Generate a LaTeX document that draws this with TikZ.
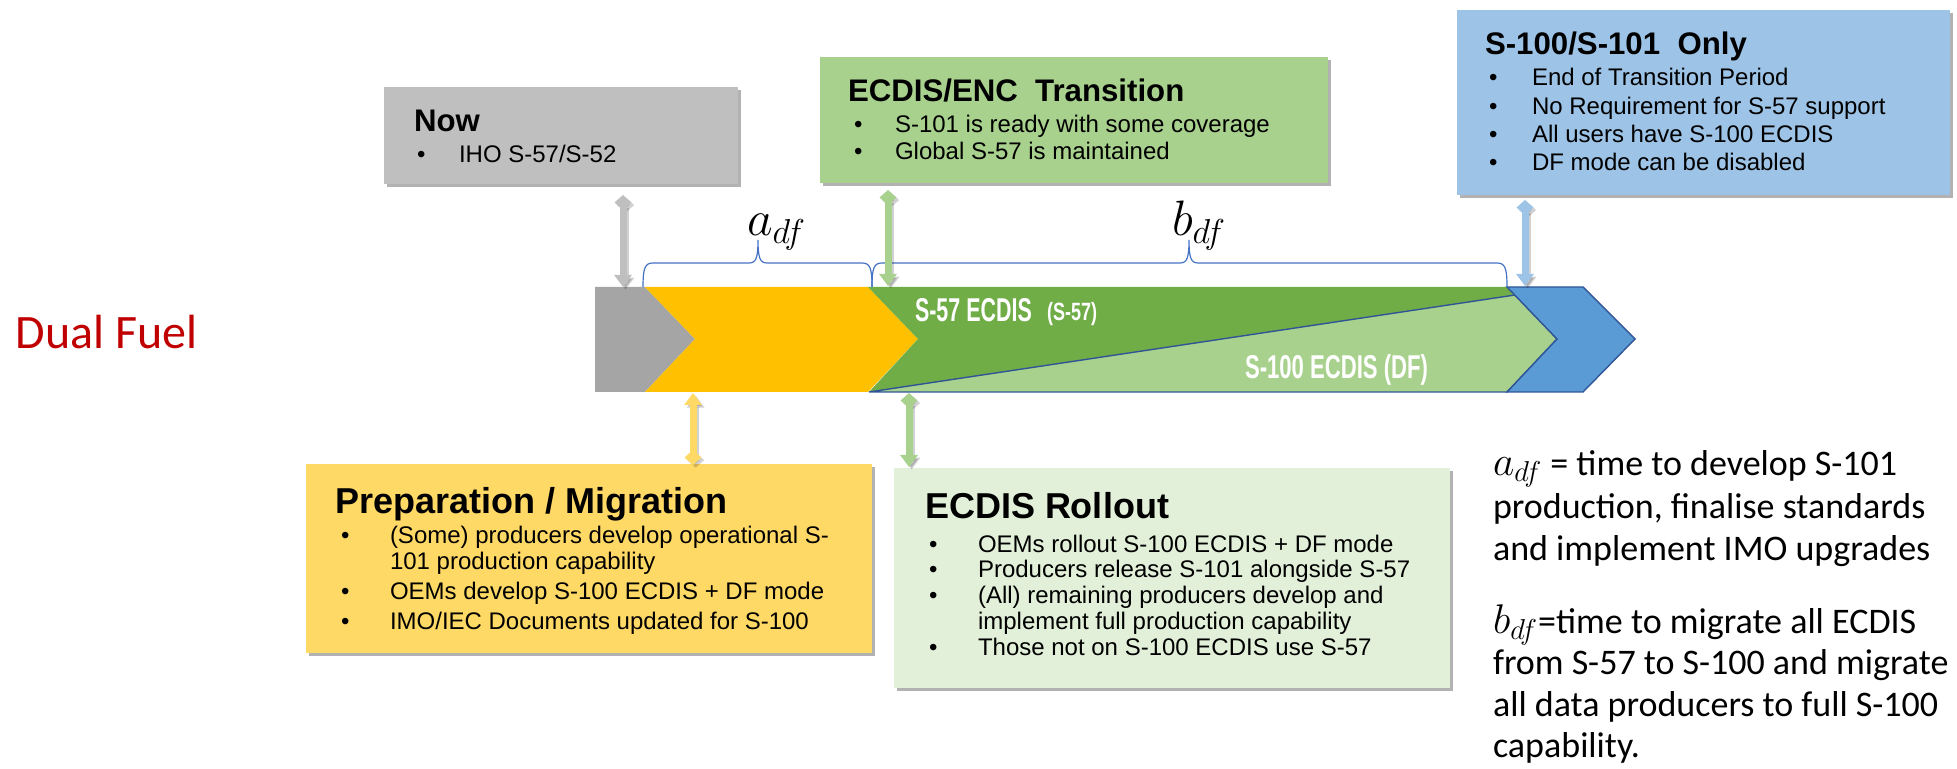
\documentclass[tikz,border=0pt]{standalone}
\usepackage{fontspec}
\setmainfont{Liberation Sans}
\newfontfamily\calibrifont{Carlito}
\usetikzlibrary{arrows.meta,shadows,fit}
\definecolor{nowgray}{HTML}{BFBFBF}
\definecolor{bargray}{HTML}{A5A5A5}
\definecolor{baryellow}{HTML}{FFC000}
\definecolor{bardkgreen}{HTML}{70AD47}
\definecolor{barltgreen}{HTML}{A9D18E}
\definecolor{barblue}{HTML}{5B9BD5}
\definecolor{bordblue}{HTML}{2F5597}
\definecolor{prepyellow}{HTML}{FFD966}
\definecolor{rollgreen}{HTML}{E2F0D9}
\definecolor{onlyblue}{HTML}{9DC3E6}
\definecolor{bracecol}{HTML}{4472C4}
\definecolor{dualred}{HTML}{C00000}
\newcommand{\bodyf}{\fontsize{12}{14}\selectfont}
\newcommand{\titlef}{\fontsize{15.6}{18}\selectfont\bfseries}
\newcommand{\bigtitlef}{\fontsize{18}{21}\selectfont\bfseries}
\newcommand{\notef}{\calibrifont\fontsize{18}{21}\selectfont}
\newcommand{\notemath}[1]{{\fontsize{21}{24}\selectfont$#1$}}
\begin{document}
\begin{tikzpicture}[x=0.5pt,y=-0.5pt,
  box/.style={draw=none, inner sep=0pt, outer sep=0pt,
    drop shadow={shadow xshift=1.6pt, shadow yshift=-1.6pt, opacity=0.3, fill=black}},
  txt/.style={anchor=base west, inner sep=0pt, outer sep=0pt},
  conn/.style={line width=3.5pt, draw=#1,
    {Diamond[length=7.5pt,width=8.5pt]}-{Triangle[length=6pt,width=8.5pt]},
    preaction={draw=black, opacity=0.18, line width=3.5pt,
      transform canvas={shift={(1.3pt,-1.3pt)}}}},
  bracestyle/.style={draw=bracecol, line width=0.6pt},
  barlbl/.style={txt, text=white, font=\fontsize{16.5}{19}\selectfont\bfseries}
]
\useasboundingbox (0,0) rectangle (1957,769);

% ---------- Dual Fuel label
\node[txt, text=dualred, font=\calibrifont\fontsize{24}{28}\selectfont] (dual) at (16,349) {Dual Fuel};

% ---------- main bar
\fill[bargray] (595,287) -- (645,287) -- (695,339) -- (645,392) -- (595,392) -- cycle;
\fill[baryellow] (645,287) -- (868,287) -- (918,339) -- (868,392) -- (645,392) -- (695,339) -- cycle;
\fill[bardkgreen] (868,287) -- (1507,287) -- (1515,295) -- (869,392) -- (918,339) -- cycle;
\filldraw[fill=barltgreen, draw=bordblue, line width=0.7pt] (869,392) -- (1515,295) -- (1557,339) -- (1507,392) -- cycle;
\filldraw[fill=barblue, draw=bordblue, line width=0.7pt] (1507,287) -- (1583,287) -- (1635,339) -- (1583,392) -- (1507,392) -- (1557,339) -- cycle;

\node[barlbl] (s57) at (915,322) {\scalebox{0.65}[1]{S-57 ECDIS}};
\node[txt, text=white, font=\fontsize{12.5}{15}\selectfont\bfseries] (s57b) at (1047,321) {\scalebox{0.72}[1]{(S-57)}};
\node[barlbl] (s100) at (1245,379) {\scalebox{0.67}[1]{S-100 ECDIS (DF)}};

% ---------- braces
\draw[bracestyle] (643,287) .. controls (643,268) and (645,263) .. (653,263) -- (749,263)
  .. controls (756,263) and (758,258) .. (758,240) .. controls (758,258) and (760,263) .. (767,263)
  -- (862,263) .. controls (870,263) and (872,268) .. (872,287);
\draw[bracestyle] (872,287) .. controls (872,268) and (874,263) .. (882,263) -- (1180,263)
  .. controls (1187,263) and (1189,258) .. (1189,240) .. controls (1189,258) and (1191,263) .. (1198,263)
  -- (1497,263) .. controls (1505,263) and (1507,268) .. (1507,287);
\node[txt, font=\fontsize{24}{28}\selectfont] (alab) at (747,236) {$a_{df}$};
\node[txt, font=\fontsize{24}{28}\selectfont] (blab) at (1172,236) {$b_{df}$};

% ---------- boxes
\node[box, fill=nowgray, fit={(384,87) (738,184)}] (now) {};
\node[txt, font=\titlef] (nowT) at (414,132) {Now};
\node[txt, font=\bodyf] (nowB1) at (417,163) {•};
\node[txt, font=\bodyf] (nowL1) at (459,163) {IHO S-57/S-52};

\node[box, fill=barltgreen, fit={(820,57) (1328,183)}] (trans) {};
\node[txt, font=\titlef] (transT) at (848,102) {ECDIS/ENC\ \ Transition};
\node[txt, font=\bodyf] (transB1) at (854,133) {•};
\node[txt, font=\bodyf] (transL1) at (895,133) {S-101 is ready with some coverage};
\node[txt, font=\bodyf] (transB2) at (854,160) {•};
\node[txt, font=\bodyf] (transL2) at (895,160) {Global S-57 is maintained};

\node[box, fill=onlyblue, fit={(1457,10) (1950,195)}] (only) {};
\node[txt, font=\titlef] (onlyT) at (1485,55) {S-100/S-101\ \ Only};
\node[txt, font=\bodyf] (onlyB1) at (1489,86) {•};
\node[txt, font=\bodyf] (onlyL1) at (1532,86) {End of Transition Period};
\node[txt, font=\bodyf] (onlyB2) at (1489,115) {•};
\node[txt, font=\bodyf] (onlyL2) at (1532,115) {No Requirement for S-57 support};
\node[txt, font=\bodyf] (onlyB3) at (1489,143) {•};
\node[txt, font=\bodyf] (onlyL3) at (1532,143) {All users have S-100 ECDIS};
\node[txt, font=\bodyf] (onlyB4) at (1489,171) {•};
\node[txt, font=\bodyf] (onlyL4) at (1532,171) {DF mode can be disabled};

\node[box, fill=prepyellow, fit={(306,464) (872,653)}] (prep) {};
\node[txt, font=\bigtitlef] (prepT) at (335,513) {Preparation / Migration};
\node[txt, font=\bodyf] (prepB1) at (341,543) {•};
\node[txt, font=\bodyf] (prepL1) at (390,543) {(Some) producers develop operational S-};
\node[txt, font=\bodyf] (prepL1b) at (390,569) {101 production capability};
\node[txt, font=\bodyf] (prepB2) at (341,599) {•};
\node[txt, font=\bodyf] (prepL2) at (390,599) {OEMs develop S-100 ECDIS + DF mode};
\node[txt, font=\bodyf] (prepB3) at (341,629) {•};
\node[txt, font=\bodyf] (prepL3) at (390,629) {IMO/IEC Documents updated for S-100};

\node[box, fill=rollgreen, fit={(894,468) (1450,688)}] (roll) {};
\node[txt, font=\bigtitlef] (rollT) at (925,518) {ECDIS Rollout};
\node[txt, font=\bodyf] (rollB1) at (929,552) {•};
\node[txt, font=\bodyf] (rollL1) at (978,552) {OEMs rollout S-100 ECDIS + DF mode};
\node[txt, font=\bodyf] (rollB2) at (929,577) {•};
\node[txt, font=\bodyf] (rollL2) at (978,577) {Producers release S-101 alongside S-57};
\node[txt, font=\bodyf] (rollB3) at (929,603) {•};
\node[txt, font=\bodyf] (rollL3) at (978,603) {(All) remaining producers develop and};
\node[txt, font=\bodyf] (rollL3b) at (978,629) {implement full production capability};
\node[txt, font=\bodyf] (rollB4) at (929,655) {•};
\node[txt, font=\bodyf] (rollL4) at (978,655) {Those not on S-100 ECDIS use S-57};

% ---------- connectors
\coordinate (gTop) at (623,195);  \coordinate (gBot) at (623,287);
\coordinate (tTop) at (888,190);  \coordinate (tBot) at (888,286);
\coordinate (oTop) at (1525,200); \coordinate (oBot) at (1525,286);
\coordinate (yTop) at (693,465);  \coordinate (yBot) at (693,393);
\coordinate (rTop) at (909,393);  \coordinate (rBot) at (909,467);
\draw[conn=nowgray] (gTop) -- (gBot);
\draw[conn=barltgreen] (tTop) -- (tBot);
\draw[conn=onlyblue] (oTop) -- (oBot);
\draw[conn=prepyellow] (yTop) -- (yBot);
\draw[conn=barltgreen] (rTop) -- (rBot);

% ---------- explanatory notes
\node[txt, font=\notef] (n1) at (1493,475) {\notemath{a_{df}} = time to develop S-101};
\node[txt, font=\notef] (n2) at (1493,518) {production, finalise standards};
\node[txt, font=\notef] (n3) at (1493,560) {and implement IMO upgrades};
\node[txt, font=\notef] (n4) at (1493,633) {\notemath{b_{df}}=time to migrate all ECDIS};
\node[txt, font=\notef] (n5) at (1493,674) {from S-57 to S-100 and migrate};
\node[txt, font=\notef] (n6) at (1493,716) {all data producers to full S-100};
\node[txt, font=\notef] (n7) at (1493,757) {capability.};
\end{tikzpicture}
\end{document}
